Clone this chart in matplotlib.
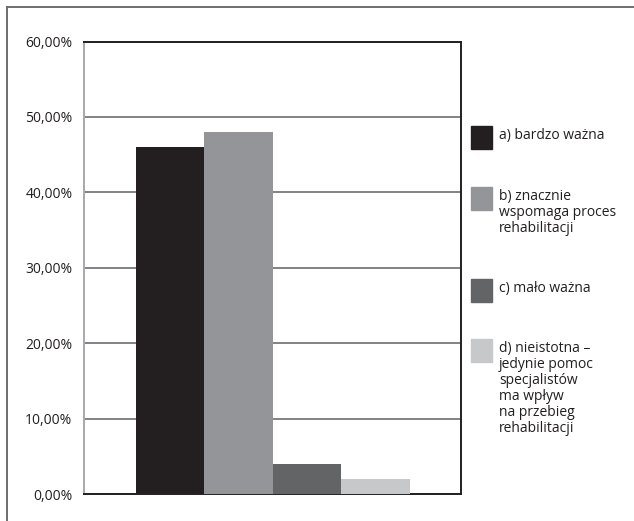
import matplotlib.pyplot as plt
from matplotlib.lines import Line2D
from matplotlib.patches import Rectangle

plt.rcParams['font.family'] = ['Open Sans', 'DejaVu Sans']

# answers and their shares (%)
labels = ['a) bardzo ważna',
          'b) znacznie\nwspomaga proces\nrehabilitacji',
          'c) mało ważna',
          'd) nieistotna –\njedynie pomoc\nspecjalistów\nma wpływ\nna przebieg\nrehabilitacji']
values = [46.0, 48.0, 4.0, 2.0]
colors = ['#231f20', '#939598', '#636466', '#c7c8ca']
yticks = [0, 10, 20, 30, 40, 50, 60]
ytick_labels = ['0,00%', '10,00%', '20,00%', '30,00%', '40,00%', '50,00%', '60,00%']

W, H = 634, 521
fig = plt.figure(figsize=(W / 100, H / 100), dpi=100)
ax = fig.add_axes([83.5 / W, 27 / H, 377.5 / W, 452.5 / H])

ax.bar(range(len(values)), values, width=1.0, color=colors, zorder=3)
ax.set_xlim(-1.266, 4.245)
ax.set_ylim(0, 60)
ax.set_yticks(yticks)
ax.set_yticklabels(ytick_labels, fontsize=10, color='#231f20')
ax.set_xticks([])
ax.tick_params(axis='y', length=0, pad=8)
ax.yaxis.grid(True, color='#808285', linewidth=1.4)
ax.set_axisbelow(True)
ax.spines['left'].set_color('#a7a9ac')
ax.spines['left'].set_linewidth(1.4)
for s in ['top', 'right', 'bottom']:
    ax.spines[s].set_color('#231f20')
    ax.spines[s].set_linewidth(1.4)

# legend drawn by hand: square + text, first line aligned to the square
legend_tops = [126, 187, 279, 339]
for lab, col, top in zip(labels, colors, legend_tops):
    fig.patches.append(Rectangle((471 / W, 1 - (top + 23) / H), 21 / W, 23 / H,
                                 transform=fig.transFigure, color=col))
    fig.text(499 / W, 1 - (top + 2) / H, lab, fontsize=10, color='#231f20',
             va='top', ha='left', linespacing=1.1)

# outer frame (top and left edges)
fig.add_artist(Line2D([7 / W, 1], [1 - 7 / H, 1 - 7 / H], color='#6d6e71',
                      linewidth=1.4, transform=fig.transFigure))
fig.add_artist(Line2D([7 / W, 7 / W], [0, 1 - 7 / H], color='#6d6e71',
                      linewidth=1.4, transform=fig.transFigure))

fig.savefig('out.png', dpi=100)
